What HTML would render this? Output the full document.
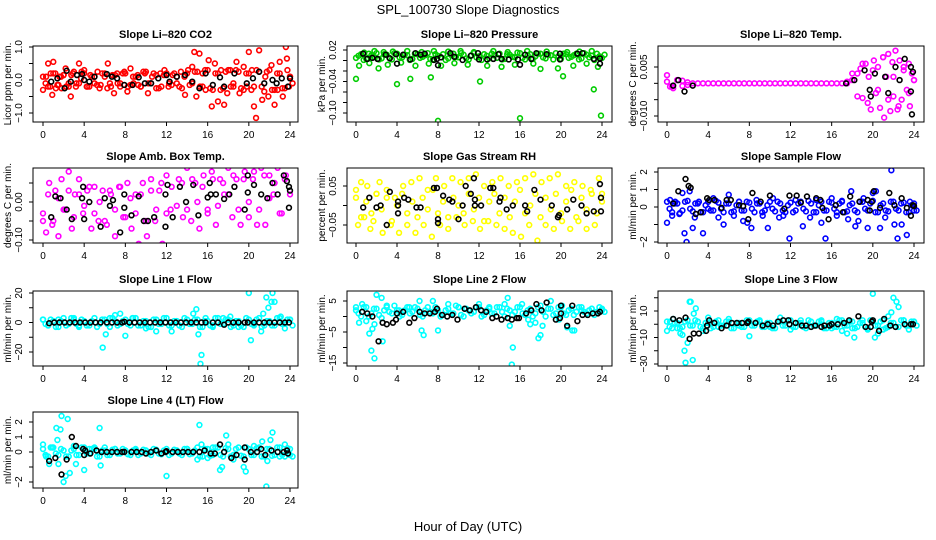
<!DOCTYPE html>
<html><head><meta charset="utf-8"><style>
html,body{margin:0;padding:0;background:#fff}
svg{display:block;font-family:"Liberation Sans",sans-serif}
</style></head><body>
<svg id="chart" width="936" height="540" viewBox="0 0 936 540">
<rect width="936" height="540" fill="#fff"/>
<text x="468" y="14" text-anchor="middle" font-size="13">SPL_100730  Slope Diagnostics</text>
<text x="468" y="531" text-anchor="middle" font-size="13">Hour of Day (UTC)</text>
</svg>
<script>
const hourTicks=[0,4,8,12,16,20,24];
// CO2
const co2Band=[0.1,-0.2,0.2,-0.15,0.15,-0.2,0.25,-0.1,0.2,-0.2,0.1,-0.25,0.2,-0.1,0.15,-0.2,0.2,-0.15,0.1,-0.2,0.25,-0.1,0.15,-0.2,0.2,-0.15,0.1,-0.25,0.2,-0.1,0.25,-0.2,0.3,-0.3,0.2,-0.25,0.3,-0.2,0.25,-0.3,0.2,-0.2,0.25,-0.35,0.3,-0.3,0.2,-0.25,0.1];
const co2Band2=[-0.1,0.2,-0.25,0.1,-0.2,0.15,-0.1,0.25,-0.2,0.1,-0.15,0.2,-0.25,0.15,-0.1,0.2,-0.2,0.1,-0.15,0.25,-0.1,0.2,-0.25,0.15,-0.1,0.2,-0.2,0.1,-0.15,0.25,-0.2,0.3,-0.25,0.2,-0.3,0.25,-0.2,0.3,-0.25,0.2,-0.3,0.3,-0.2,0.25,-0.3,0.2,-0.25,0.3,-0.1];
const co2Pts=[[0,-0.3],[0.3,0.1],[0.5,0.5],[0.7,-0.2],[0.9,-0.45],[1,0.55],[1.2,0.2],[1.4,-0.15],[1.6,0.1],[1.8,-0.25],[2,0.15],[2.2,0.35],[2.5,-0.1],[2.7,-0.5],[2.9,0.2],[3.2,-0.2],[3.5,0.5],[3.7,0.05],[4,0.3],[4.3,-0.2],[4.6,0.15],[5,-0.1],[5.3,0.25],[5.6,-0.15],[6,0.1],[6.3,0.5],[6.6,-0.2],[6.9,-0.4],[7.2,0.2],[7.5,-0.1],[7.9,0.25],[8.2,-0.35],[8.5,0.35],[8.8,-0.1],[9.2,0.15],[9.5,-0.2],[9.9,0.2],[10.2,-0.4],[10.6,0.1],[11,-0.25],[11.4,0.2],[11.8,0.3],[12.2,-0.2],[12.6,0.15],[13,-0.1],[13.4,0.25],[13.8,-0.45],[14.1,0.3],[14.5,0.4],[14.7,0.85],[14.9,-0.5],[15.2,0.8],[15.5,0.2],[15.8,-0.3],[16.1,0.6],[16.4,-0.8],[16.7,0.5],[17,-0.65],[17.3,0.3],[17.6,-0.75],[17.9,-0.4],[18.2,0.3],[18.5,-0.1],[18.8,0.55],[19.1,-0.4],[19.5,0.4],[19.8,-0.2],[20,0.85],[20.3,0.3],[20.5,-0.8],[20.7,-1.15],[21,0.9],[21.3,-0.6],[21.6,0.1],[21.9,-0.5],[22.2,0.45],[22.5,-0.75],[22.8,-0.3],[23,0.55],[23.3,-0.5],[23.6,1.0],[23.7,0.65],[23.9,-0.2],[24,0.1]];
const co2Black=[[0.8,-0.05],[1.4,0.05],[2.1,-0.25],[2.3,0.28],[2.7,-0.05],[3.3,0.15],[3.8,0.18],[4,0],[4.5,-0.05],[5,0.1],[6.2,0.18],[6.7,0.1],[7.2,0.05],[7.9,-0.15],[8.7,-0.15],[9.3,0.08],[9.9,-0.1],[10.5,-0.1],[11.2,0.05],[12,0.15],[12.3,-0.05],[13,0.1],[13.8,0.15],[14.5,-0.05],[15.2,-0.25],[15.8,0.2],[16.5,-0.15],[17.2,0.08],[17.6,-0.2],[18.6,0.2],[19.8,-0.1],[20.4,0.05],[21,0.25],[21.5,-0.1],[22.3,0],[22.7,-0.1],[23.2,0.05],[23.8,-0.2],[24,0.05]];
const co2Ticks=[-1,-0.5,0,0.5,1];
const co2Labels=["-1.0","","0.0","","1.0"];
// Pressure
const presBand=[0.005,0.012,0.003,0.01,0.014,0.004,0.011,0.002,0.013,0.006,0.01,0.003,0.012,0.007,0.014,0.002,0.009,0.012,0.004,0.013,0.006,0.011,0.002,0.014,0.008,0.012,0.004,0.01,0.013,0.003,0.011,0.006,0.014,0.002,0.012,0.008,0.013,0.004,0.01,0.014,0.003,0.012,0.007,0.013,0.004,0.011,0.009,0.013,0.005];
const presBand2=[0.009,0.001,0.013,0.007,0.002,0.012,0.005,0.014,0.006,0.011,0.001,0.013,0.005,0.01,0.003,0.012,0.006,0.001,0.011,0.007,0.014,0.004,0.01,0.006,0.001,0.009,0.013,0.005,0.002,0.012,0.007,0.015,0.005,0.01,0.003,0.013,0.006,0.011,0.002,0.008,0.013,0.005,0.01,0.002,0.014,0.006,0.001,0.008,0.011];
const presPts=[[0.3,-0.01],[0.8,0.015],[1.3,-0.005],[1.8,0.018],[2.2,-0.015],[2.7,0.016],[3.1,-0.008],[3.6,0.017],[4.4,-0.004],[5,0.018],[5.8,-0.01],[6.4,0.016],[7.1,-0.006],[7.6,0.018],[8.3,-0.01],[9,0.017],[9.6,-0.005],[10.2,0.018],[10.9,-0.008],[11.5,0.016],[12.8,-0.01],[13.4,0.018],[14.2,-0.012],[14.8,0.016],[15.5,-0.008],[16.7,0.018],[17.3,-0.006],[18,-0.016],[18.6,0.017],[19.7,-0.015],[20.6,0.016],[21.2,-0.01],[21.8,0.017],[22.5,-0.006],[23,0.018],[23.6,-0.012],[0,-0.035],[4,-0.045],[5.3,-0.035],[8,-0.115],[16,-0.11],[23.2,-0.055],[23.9,-0.105],[12.1,-0.04],[7.3,-0.032],[20.2,-0.03]];
const presBlack=[[0.7,0.013],[1.1,0.003],[1.6,0.005],[2.1,0.003],[2.9,0.011],[3.3,0.004],[3.9,0.012],[4,-0.006],[4.6,0.011],[5.3,0.002],[5.8,0.014],[6.3,0.011],[6.7,0.013],[7.6,0.001],[7.9,0.003],[8,-0.009],[8.3,0.006],[9.2,0.014],[9.6,0.007],[10.4,0.001],[11.2,0.009],[11.9,0.014],[12,0.002],[12.8,0.002],[13.4,0.003],[13.9,0.012],[14.2,0.003],[14.9,0.002],[15.8,0.002],[16,-0.008],[16.5,0.011],[17.1,0.003],[17.6,0.014],[18.6,0.012],[19.9,0.013],[19.9,0.002],[21.6,0.013],[22.1,0.014],[23.2,0.003],[23.8,0.004],[23.8,-0.006]];
const presTicks=[0.02,0,-0.02,-0.04,-0.06,-0.08,-0.10];
const presLabels=["0.02","","","-0.04","","","-0.10"];
// Li-820 Temp
const ltBand=[0.0005,-0.001,0.001,-0.0008,0.0003,0,0,0,0,0,0,0,0,0,0,0,0,0,0,0,0,0,0,0,0,0,0,0,0,0,0,0,0,0,0,0,0.003,-0.004,0.006,-0.006,0.004,-0.002,0.008,-0.005,0.002,-0.007,0.005,-0.003,0.001];
const ltBand2=[];
const ltPts=[[0,0.0025],[0.3,-0.001],[0.6,-0.0015],[1,0.001],[1.5,0.0008],[2,-0.0005],[17.5,0.0005],[18,0.001],[18.5,0.003],[18.8,0.0045],[19,-0.0045],[19.3,0.006],[19.6,0.002],[19.8,-0.008],[20.1,0.007],[20.3,-0.003],[20.5,0.005],[20.7,-0.0075],[21,0.008],[21.1,-0.0105],[21.3,0.002],[21.5,0.009],[21.7,-0.0085],[21.9,0.0065],[22,-0.004],[22.2,0.01],[22.4,-0.008],[22.6,0.007],[22.8,-0.005],[23,0.004],[23.3,-0.002],[23.5,0.006],[23.6,-0.007],[23.8,0.003],[24,0.001]];
const ltBlack=[[0.6,-0.0007],[1.1,0.001],[1.7,-0.0025],[2.5,-0.0007],[17.4,0],[18.2,0.001],[19.2,0.004],[19.7,-0.002],[19.8,-0.004],[20.2,0.003],[21.2,0.002],[21.5,-0.003],[22.2,0.005],[22.6,0.001],[23.1,0.0075],[23.7,0.005],[23.7,-0.0025],[23.8,-0.0095],[23.9,0.0035]];
const ltTicks=[0.005,0,-0.005,-0.010];
const ltLabels=["0.005","","","-0.010"];
// Amb Box Temp
const ambBand=[-0.03,0.02,-0.05,0.01,-0.02,0.03,-0.04,0.02,-0.01,0.04,-0.03,0.0,-0.05,0.03,-0.02,0.04,-0.04,0.01,-0.03,0.02,-0.05,0.03,-0.02,0.05,-0.03,0.04,-0.01,0.05,-0.02,0.06,0.0,0.04,-0.03,0.06,-0.01,0.05,0.02,0.07,-0.02,0.06,0.0,0.08,-0.02,0.07,0.01,0.05,-0.03,0.06,0.02];
const ambBand2=[];
const ambPts=[[0,-0.05],[0.3,-0.08],[0.6,0.05],[0.9,-0.06],[1.2,0.03],[1.5,-0.09],[1.8,0.06],[2.1,-0.02],[2.5,0.08],[2.8,-0.07],[3.1,0.02],[3.5,0.06],[3.9,-0.03],[4.3,0.03],[4.7,-0.07],[5,0.04],[5.4,-0.05],[5.8,0.03],[6.2,-0.06],[6.6,0.02],[7,-0.09],[7.4,0.04],[7.8,-0.04],[8.2,0.05],[8.6,-0.07],[9,0.02],[9.3,-0.11],[9.7,0.05],[10.1,-0.09],[10.5,0.06],[10.9,-0.05],[11.3,0.03],[11.6,-0.11],[12,0.07],[12.4,-0.02],[12.8,-0.12],[13.2,0.06],[13.6,-0.04],[14,0.09],[14.4,-0.05],[14.8,0.05],[15.2,-0.07],[15.6,0.07],[16,-0.02],[16.4,0.08],[16.8,-0.06],[17.2,0.06],[17.6,0.02],[18,0.09],[18.4,-0.04],[18.8,0.06],[19.2,-0.06],[19.6,0.08],[20,-0.04],[20.4,0.06],[20.8,-0.06],[21.2,0.09],[21.6,-0.06],[22,0.07],[22.4,0.02],[22.8,0.09],[23.2,-0.03],[23.6,0.07],[24,0.1]];
const ambBlack=[[0.8,-0.04],[1.2,0.015],[1.7,0.01],[2.3,-0.02],[2.8,-0.045],[3.8,0.01],[3.9,0.04],[4,-0.045],[4.5,0.0],[5.6,-0.065],[6,0.01],[6.5,-0.01],[6.8,0.005],[7.5,-0.08],[7.9,0.02],[7.9,-0.015],[8.6,-0.035],[9.3,0.015],[9.8,-0.05],[10.2,-0.05],[10.8,-0.04],[11.9,-0.065],[11.9,0.02],[12.1,0.045],[12.6,-0.04],[13.3,0.04],[13.9,0.0],[14.6,0.045],[15.1,-0.035],[16,0.012],[16.2,0.05],[16.3,0.02],[16.8,0.02],[17.6,0.008],[18.1,0.02],[18.6,0.04],[19.6,-0.02],[19.9,0.07],[19.9,0.025],[20.5,0.045],[21.2,0.02],[21.8,0.01],[22.3,0.05],[22.8,0.02],[23.4,0.07],[23.7,0.055],[23.9,0.04],[23.9,-0.015],[24,0.03]];
const ambTicks=[0.05,0,-0.05,-0.10];
const ambLabels=["","0.00","","-0.10"];
// Gas RH
const rhBand=[0.02,-0.03,0.01,-0.02,0.03,-0.01,0.02,-0.04,0.0,0.03,-0.02,0.01,-0.03,0.02,-0.01,0.04,-0.02,0.01,-0.03,0.02,0.0,-0.02,0.03,-0.01,0.02,-0.04,0.01,0.03,-0.02,0.02,-0.03,0.01,0.04,-0.02,0.0,0.03,-0.03,0.02,-0.01,0.03,-0.02,0.01,0.04,-0.03,0.02,-0.01,0.03,-0.02,0.01];
const rhBand2=[];
const rhPts=[[0,0.04],[0.2,-0.05],[0.5,0.06],[0.8,-0.03],[1.1,0.05],[1.4,-0.06],[1.7,-0.04],[2.0,0.03],[2.3,0.06],[2.6,-0.07],[3,0.04],[3.4,-0.05],[3.8,0.02],[4.2,-0.07],[4.6,0.05],[5,-0.05],[5.4,0.06],[5.8,-0.07],[6.2,0.07],[6.6,-0.05],[7,0.04],[7.4,-0.08],[7.8,0.07],[8.2,-0.05],[8.6,0.05],[9,-0.06],[9.4,0.07],[9.8,-0.03],[10.2,0.06],[10.6,-0.05],[11,0.07],[11.4,-0.04],[11.7,0.08],[12.1,-0.06],[12.5,0.05],[12.9,-0.04],[13.3,0.06],[13.7,-0.05],[14.1,0.07],[14.5,-0.06],[14.9,0.05],[15.3,-0.07],[15.7,0.06],[16.1,-0.08],[16.5,0.07],[16.9,-0.05],[17.3,0.08],[17.7,-0.09],[18.1,0.06],[18.5,-0.05],[18.9,0.07],[19.3,-0.06],[19.7,0.08],[20.1,-0.04],[20.5,0.05],[20.9,-0.06],[21.3,0.06],[21.7,-0.04],[22.1,0.05],[22.5,-0.06],[22.9,0.04],[23.3,-0.05],[23.7,0.07],[24,0.03]];
const rhBlack=[[0.7,-0.005],[1.3,0.02],[2.0,-0.005],[2.4,0.0],[3.0,-0.05],[3.3,0.035],[4.1,0.01],[4.1,0.0],[4.1,-0.02],[4.7,0.02],[5.1,0.015],[5.9,-0.005],[6.3,-0.005],[7.6,0.045],[7.9,0.045],[8.0,-0.035],[8.0,-0.045],[8.5,0.025],[9.1,0.015],[9.4,0.01],[10.0,-0.035],[10.4,0.0],[10.7,0.05],[11.2,0.03],[11.5,0.07],[11.6,0.015],[11.6,0.0],[12.2,0.0],[13.1,0.045],[13.4,0.045],[14.0,0.01],[14.1,0.02],[14.7,-0.01],[15.3,0.0],[16.5,0.0],[16.7,-0.015],[17.4,0.04],[18.0,0.015],[19.1,0.0],[19.7,-0.03],[19.8,-0.025],[20.6,-0.01],[21.2,0.015],[22.0,0.0],[22.5,-0.02],[23.2,-0.015],[23.8,0.055],[23.9,0.02],[23.9,-0.015]];
const rhTicks=[0.05,0,-0.05];
const rhLabels=["0.05","","-0.05"];
// Sample Flow
const sfBand=[0.3,-0.3,0.2,-0.2,0.35,-0.25,0.2,-0.3,0.3,-0.2,0.25,-0.3,0.2,-0.25,0.3,-0.2,0.25,-0.3,0.2,-0.2,0.3,-0.25,0.2,-0.3,0.25,-0.2,0.3,-0.25,0.2,-0.3,0.3,-0.2,0.25,-0.3,0.35,-0.25,0.2,-0.3,0.3,-0.2,0.35,-0.3,0.2,-0.25,0.3,-0.2,0.25,-0.3,0.2];
const sfBand2=[-0.1,0.2,-0.35,0.3,-0.1,0.2,-0.3,0.1,-0.2,0.35,-0.1,0.2,-0.3,0.1,-0.2,0.3,-0.1,0.2,-0.3,0.1,-0.1,0.3,-0.2,0.1,-0.3,0.2,-0.1,0.35,-0.3,0.1,-0.2,0.3,-0.1,0.2,-0.3,0.1,-0.2,0.3,-0.1,0.2,-0.3,0.1,-0.2,0.3,-0.1,0.2,-0.3,0.1,-0.2];
const sfPts=[[0,-0.9],[0.3,0.4],[0.5,-0.5],[0.8,0.3],[1.2,-0.4],[1.5,0.8],[1.7,-1.5],[1.9,-2.0],[2.2,0.9],[2.5,-1.2],[2.7,-0.6],[3.1,0.3],[3.5,-1.5],[4.0,-0.1],[4.5,0.5],[5.0,-0.6],[5.5,-1.0],[6.0,0.7],[6.5,-0.5],[7,0.3],[7.4,-0.8],[7.8,-0.9],[8.2,-1.2],[8.7,0.4],[9.3,-0.5],[9.8,-1.2],[10.3,0.5],[10.9,-0.6],[11.3,-0.5],[11.9,-1.8],[12.5,0.4],[13.2,-1.1],[13.9,-0.6],[14.5,0.4],[15.0,-0.9],[15.4,-1.8],[16.0,0.5],[16.5,-0.5],[17.0,0.3],[17.6,-0.7],[17.9,0.9],[18.3,-1.1],[18.6,-0.8],[19.1,0.5],[19.5,-1.2],[20,0.8],[20.3,0.9],[20.7,-1.2],[21.2,-0.6],[21.8,2.1],[22.1,-1.0],[22.4,-1.8],[22.8,-1.0],[23.3,-1.6],[23.6,0.3],[24,-0.2]];
const sfBlack=[[0.6,0.2],[1.1,0.9],[1.8,1.6],[2.1,1.2],[2.3,1.1],[2.8,-0.4],[3.3,-0.3],[3.9,0.5],[4.1,0.4],[4.6,0.4],[5.3,-0.05],[5.8,0.4],[6.2,0.4],[7.0,0.1],[7.4,0.05],[7.9,-0.7],[8.3,0.8],[9.1,0.3],[10.0,0.65],[11.4,-0.1],[11.9,0.65],[12.6,0.65],[13.0,0.25],[13.6,0.6],[14.5,0.5],[14.9,0.4],[15.1,-0.05],[15.7,-0.7],[16.4,0.1],[17.1,-0.3],[17.8,0.6],[18.7,0.3],[19.5,0.4],[19.7,-0.2],[19.9,0.3],[20.1,0.9],[20.7,-0.05],[21.6,0.8],[22.1,0.1],[22.8,0.5],[23.3,-0.05],[23.7,-0.5],[23.9,0.1],[24,0.05]];
const sfTicks=[2,1,0,-1,-2];
const sfLabels=["2","1","0","","-2"];
// Line 1
const l1Band=[2,-2,1,-3,3,-1,2,-2,1,-2,3,-1,2,-3,1,-1,2,-2,3,-2,1,-3,2,-1,3,-2,1,-3,2,-1,2,-3,1,-2,3,-1,2,-2,1,-3,2,-1,3,-2,1,-2,3,-1,2];
const l1Band2=[-1,2,-3,1,-2,3,-1,2,-2,1,-3,2,-1,3,-2,1,-1,3,-2,1,-3,2,-1,3,-2,1,-2,3,-1,2,-3,1,-2,3,-1,2,-3,1,-2,3,-1,2,-3,1,-2,3,-1,2,-2];
const l1Pts=[[0,2],[0.5,-2],[1.5,2],[3,3],[3.5,-3],[5.8,-17],[6.1,-8],[6.5,3],[7,5],[7.5,6],[8,-9],[8.7,3],[10,-4],[11,-6],[12.5,-6],[14.6,6],[14.9,9],[15.1,-8],[15.3,-28],[15.4,-22],[15.8,3],[16.5,-3],[17.5,3],[18.2,4],[19,-3],[20,20],[20.2,-12],[20.5,-2],[21.2,-6],[21.4,6],[21.7,17],[21.9,10],[22.2,14],[22.3,20],[22.5,14],[23.1,4],[23.5,-4],[24,2]];
const l1Black=[[0.6,-0.5],[1.1,0],[1.6,0],[2.1,0],[2.6,0],[3.1,0],[3.6,0],[4.1,0],[4.6,0],[5.1,0],[5.6,0],[6.2,0],[6.7,0],[7.2,0],[7.7,0],[7.9,0.5],[8.4,0],[8.9,0],[9.4,0],[9.9,0],[10.4,0],[10.9,0],[11.4,0],[11.9,0],[12.4,0],[12.9,0],[13.4,0],[13.9,0],[14.4,0],[14.9,0],[15.4,0],[15.8,0],[16.5,0],[17.0,0],[17.6,-1.5],[18.0,0],[18.5,0],[19.0,0],[19.6,0],[19.9,0],[20.5,0],[21.0,0],[21.5,0],[22.0,0],[22.5,0],[23.0,0],[23.5,0],[23.9,0]];
const l1Ticks=[20,10,0,-10,-20];
const l1Labels=["20","","0","","-20"];
// Line 2
const l2Band=[2,0,3,1,2.5,-0.5,3,1,2,0.5,3,1.5,2.5,0,3,1,2,0.5,2.5,1,3,0,2,1.5,3,0.5,2.5,1,3,0,2,1.5,3,0.5,2.5,1,3.5,0,2.5,1,3,0.5,2.5,1.5,3,1,2.5,1.5,2];
const l2Band2=[1,3,0,2.5,0.5,2,1.5,3.5,0,2,1,3,0.5,2,1.5,3,0,2,1,3.5,0.5,2.5,1,3,0,2,1,3,1.5,2.5,0.5,3,1,2,0,3,1.5,2.5,0.5,3,1,2,0.5,3,1.5,2,0.5,3,1.5];
const l2Pts=[[0,3],[0.3,-2],[0.6,4],[1,-1.5],[1.3,-5.5],[1.6,-4],[1.8,-2.5],[1.5,-11],[1.8,-13.5],[2,7],[2.3,9],[2.5,6],[2.6,-8],[3.0,3.5],[4.2,2],[5.2,3],[6.2,5],[6.4,-4.5],[6.6,-6],[7.5,5],[8.0,-4.5],[9,4],[10,3],[11,2],[12,4],[13,3],[14.5,4],[14.8,6],[15.0,-3],[15.3,-10],[15.2,-15.5],[16.2,4],[16.8,-1],[17,-2.5],[17.5,-2],[17.8,-7],[18,-6],[18.2,-3],[19,5],[19.8,-1],[20.1,3.5],[20.6,-3.5],[21.1,-4.5],[21.3,-4.5],[22,2],[23,2.5],[24,2.5]];
const l2Black=[[0.6,1.5],[1.1,1],[1.6,0],[2.2,-8],[2.6,-2],[3.0,-2.5],[3.6,-2],[3.9,-1],[4.0,1],[4.6,1.5],[5.2,-2],[5.7,-0.5],[6.2,1.5],[6.7,1],[7.2,1],[7.7,1.5],[7.9,2.5],[8.4,0.5],[8.9,0],[9.4,0.5],[9.9,-1],[10.6,2.5],[11.1,2],[11.7,3],[12.2,2],[12.7,1.5],[13.3,-0.5],[13.7,0],[14.2,-1],[14.8,-0.5],[15.2,-1],[15.7,-0.5],[15.9,-0.5],[16.6,1],[17.1,2],[17.6,4],[18.1,2],[18.6,4.5],[19.5,-1],[19.9,-0.5],[20.0,1],[20.0,3.5],[20.6,-3],[21.1,3.5],[21.6,-1.5],[22.1,0.5],[22.6,0.5],[23.1,1],[23.6,1],[23.8,1.5]];
const l2Ticks=[5,0,-5,-10,-15];
const l2Labels=["5","","-5","","-15"];
// Line 3
const l3Band=[2,-3,1,-2,3,-1,2,-3,1,-2,3,-1,2,-3,1,-2,3,-1,2,-2,1,-3,2,-1,3,-2,1,-3,2,-1,2,-3,1,-2,3,-1,2,-2,1,-3,2,-1,3,-2,1,-2,3,-1,2];
const l3Band2=[-2,1,-3,2,-1,3,-2,1,-3,2,-1,2,-3,1,-2,3,-1,2,-2,1,-3,2,-1,3,-2,1,-2,3,-1,2,-3,1,-2,3,-1,2,-3,1,-2,3,-1,2,-3,1,-2,3,-1,2,-1];
const l3Pts=[[0,-5],[0.3,2],[0.6,4],[1.0,-3],[1.3,-7],[1.5,-8],[1.7,-20],[1.8,-29],[2.0,-14],[2.2,17],[2.3,17],[2.5,-27],[2.6,8],[2.8,12],[3.5,-5],[4,5],[5,-2],[6,4],[7,-1],[8,-9],[9,3],[10,-2],[11,5],[12,-4],[13,3],[14,-2],[15,3],[16,-3],[16.5,4],[17,-5],[17.5,-7],[18,-3],[18.2,-10],[19,3],[19.5,-4],[20,23],[20.2,-10],[20.5,-7],[21,-4],[21.5,6],[21.8,9],[22,20],[22.3,17],[22.5,13],[23,3],[23.5,-4],[24,2]];
const l3Black=[[0.6,4],[1.2,3],[1.8,5],[2.2,-11],[2.6,-7],[3.1,-7],[3.8,-5],[3.9,-1],[4.1,3],[4.6,1],[5.3,-3],[5.8,-1],[6.3,1],[6.8,1],[7.3,1],[7.8,1],[7.9,2],[8.6,1],[9.3,-1],[9.8,0],[10.3,-1],[10.8,2],[11.3,3],[11.8,3],[11.9,0],[12.5,1],[13.1,-1],[13.5,-1],[14,-2],[14.4,-1],[15.0,-2],[15.3,-1],[15.8,-1],[16.0,0],[16.6,0],[17.2,1],[17.7,3],[18.6,6],[19.3,-2],[19.8,-2],[19.9,2],[20.0,3],[20.6,-5],[21.1,4],[21.7,-1],[22.2,-2],[23.1,0],[23.7,0],[23.9,0]];
const l3Ticks=[20,10,0,-10,-20,-30];
const l3Labels=["","10","","-10","","-30"];
// Line 4
const l4Band=[0.2,-0.3,0.3,-0.2,0.1,-0.3,0.2,-0.2,0.3,-0.1,0.2,-0.3,0.1,-0.2,0.2,-0.1,0.1,-0.2,0.2,-0.1,0.1,-0.2,0.15,-0.15,0.2,-0.1,0.1,-0.2,0.2,-0.1,0.3,-0.3,0.2,-0.2,0.3,-0.3,0.2,-0.2,0.3,-0.3,0.2,-0.2,0.3,-0.3,0.2,-0.2,0.3,-0.3,0.2];
const l4Band2=[-0.2,0.3,-0.1,0.2,-0.3,0.1,-0.2,0.3,-0.1,0.2,-0.3,0.1,-0.2,0.15,-0.1,0.2,-0.15,0.1,-0.2,0.15,-0.1,0.2,-0.1,0.1,-0.2,0.15,-0.1,0.2,-0.15,0.1,-0.3,0.2,-0.25,0.3,-0.2,0.25,-0.3,0.2,-0.25,0.3,-0.2,0.25,-0.3,0.2,-0.25,0.3,-0.2,0.25,-0.3];
const l4Pts=[[0,0.5],[0.3,-0.3],[0.6,-0.8],[0.9,0.3],[1.3,1.6],[1.4,0.8],[1.5,-0.8],[1.7,1.5],[1.8,2.4],[2,-2.0],[2.2,-1.6],[2.4,2.2],[2.6,-1.4],[3.0,0.4],[3.2,-0.8],[4,-1.2],[4.5,0.2],[5.0,0.3],[5.5,1.6],[5.6,-0.9],[6.0,0.3],[7,0.2],[8,0.1],[9,0.1],[10,0.1],[12,-1.6],[13,0.1],[14,0.2],[15,-0.5],[15.2,1.8],[15.4,0.5],[16,-0.4],[16.5,0.3],[17.2,-1.2],[17.4,-1.0],[17.8,1.1],[18.0,0.5],[18.5,-0.5],[19.5,-1.0],[19.7,-1.3],[20.5,0.4],[21.3,0.7],[21.7,-2.3],[21.8,-0.6],[22.1,0.8],[22.3,1.3],[23,-0.3],[23.5,0.5],[24,-0.2]];
const l4Black=[[0.6,-0.6],[1.2,-0.4],[1.8,-1.5],[2.3,-0.5],[2.8,1.0],[3.2,0.4],[3.9,0.2],[4.0,-0.2],[4.1,0.1],[4.6,-0.1],[5.2,0.1],[5.7,0],[6.2,0],[6.7,0],[7.2,0],[7.7,0],[7.9,0],[8.6,0],[9.1,0],[9.6,0],[10.0,-0.1],[10.5,0],[11,0.1],[11.5,-0.1],[11.9,0],[12,0.05],[12.6,0],[13.1,0],[13.6,0],[14.1,0],[14.6,0],[15.2,0],[15.7,0.1],[16.3,-0.1],[16.7,-0.1],[17.2,0.5],[17.6,0],[18.3,-0.4],[18.8,-0.2],[19.6,0.3],[19.6,-0.5],[20.2,0],[20.8,0],[21.2,0.2],[21.6,-0.2],[22.2,0.1],[22.8,0],[23.4,0],[23.7,0.1],[23.8,-0.1]];
const l4Ticks=[2,1,0,-1,-2];
const l4Labels=["2","1","0","","-2"];

const svg=document.getElementById('chart');
const NS='http://www.w3.org/2000/svg';
function mk(tag,attrs,parent){const e=document.createElementNS(NS,tag);for(const k in attrs)e.setAttribute(k,attrs[k]);(parent||svg).appendChild(e);return e;}
const cols=[{bx0:33,bx1:298,h0:43,h24:290},{bx0:347,bx1:612,h0:356,h24:602},{bx0:658,bx1:924,h0:667,h24:914}];
const rows=[{top:46,bot:122},{top:168,bot:243},{top:291,bot:366},{top:412,bot:488}];
const panels=[
 {key:'co2',title:'Slope Li-820 CO2',ylab:'Licor ppm per min.',c:0,r:0,color:'#ff0000',band:co2Band,band2:co2Band2,pts:co2Pts,blk:co2Black,ticks:co2Ticks,labels:co2Labels,cal:[1,47,-1,113]},
 {key:'pressure',title:'Slope Li-820 Pressure',ylab:'kPa per min.',c:1,r:0,color:'#00cc00',band:presBand,band2:presBand2,pts:presPts,blk:presBlack,ticks:presTicks,labels:presLabels,cal:[0.02,50,-0.10,113]},
 {key:'li820-temp',title:'Slope Li-820 Temp.',ylab:'degrees C per min.',c:2,r:0,color:'#ff00ff',band:ltBand,band2:ltBand2,pts:ltPts,blk:ltBlack,ticks:ltTicks,labels:ltLabels,cal:[0.005,67,-0.010,116]},
 {key:'amb-box-temp',title:'Slope Amb. Box Temp.',ylab:'degrees C per min.',c:0,r:1,color:'#ff00ff',band:ambBand,band2:ambBand2,pts:ambPts,blk:ambBlack,ticks:ambTicks,labels:ambLabels,cal:[0.05,183,-0.10,240]},
 {key:'gas-stream-rh',title:'Slope Gas Stream RH',ylab:'percent per min.',c:1,r:1,color:'#ffff00',band:rhBand,band2:rhBand2,pts:rhPts,blk:rhBlack,ticks:rhTicks,labels:rhLabels,cal:[0.05,186,-0.05,225]},
 {key:'sample-flow',title:'Slope Sample Flow',ylab:'ml/min per min.',c:2,r:1,color:'#0000ff',band:sfBand,band2:sfBand2,pts:sfPts,blk:sfBlack,ticks:sfTicks,labels:sfLabels,cal:[2,172,-2,242]},
 {key:'line1-flow',title:'Slope Line 1 Flow',ylab:'ml/min per min.',c:0,r:2,color:'#00ffff',band:l1Band,band2:l1Band2,pts:l1Pts,blk:l1Black,ticks:l1Ticks,labels:l1Labels,cal:[20,293,-20,352]},
 {key:'line2-flow',title:'Slope Line 2 Flow',ylab:'ml/min per min.',c:1,r:2,color:'#00ffff',band:l2Band,band2:l2Band2,pts:l2Pts,blk:l2Black,ticks:l2Ticks,labels:l2Labels,cal:[5,301,-15,363]},
 {key:'line3-flow',title:'Slope Line 3 Flow',ylab:'ml/min per min.',c:2,r:2,color:'#00ffff',band:l3Band,band2:l3Band2,pts:l3Pts,blk:l3Black,ticks:l3Ticks,labels:l3Labels,cal:[10,311,-30,364]},
 {key:'line4-flow',title:'Slope Line 4 (LT) Flow',ylab:'ml/min per min.',c:0,r:3,color:'#00ffff',band:l4Band,band2:l4Band2,pts:l4Pts,blk:l4Black,ticks:l4Ticks,labels:l4Labels,cal:[2,422,-2,482]}
];
panels.forEach(p=>{
 const C=cols[p.c],R=rows[p.r];
 const xs=h=>C.h0+h*(C.h24-C.h0)/24;
 const ys=v=>p.cal[1]+(v-p.cal[0])*(p.cal[3]-p.cal[1])/(p.cal[2]-p.cal[0]);
 const g=mk('g',{});
 
 
 const t=mk('text',{x:(C.bx0+C.bx1)/2,y:R.top-8,'text-anchor':'middle','font-size':11,'font-weight':'bold'},g);
 t.textContent=p.title.replace('-','\u2013');
 
 
 const cl=mk('clipPath',{id:'clip-'+p.key},g);
 mk('rect',{x:C.bx0,y:R.top,width:C.bx1-C.bx0,height:R.bot-R.top},cl);
 const pg=mk('g',{'clip-path':'url(#clip-'+p.key+')'},g);
 
 
 p.band.forEach((v,i)=>{
  const c=mk('circle',{cx:xs(i*0.5),cy:ys(v),r:2.4,fill:'none',stroke:p.color,'stroke-width':1.6},pg);
  
  
 });
 p.band2.forEach((v,i)=>{
  const c=mk('circle',{cx:xs(i*0.5+0.25),cy:ys(v),r:2.4,fill:'none',stroke:p.color,'stroke-width':1.6},pg);
  
  
 });
 p.pts.forEach(d=>{
  const c=mk('circle',{cx:xs(d[0]),cy:ys(d[1]),r:2.4,fill:'none',stroke:p.color,'stroke-width':1.6},pg);
  
  
 });
 p.blk.forEach(d=>{
  const c=mk('circle',{cx:xs(d[0]),cy:ys(d[1]),r:2.4,fill:'none',stroke:'#000','stroke-width':1.6},pg);
  
  
 });
 const box=mk('rect',{x:C.bx0,y:R.top,width:C.bx1-C.bx0,height:R.bot-R.top,fill:'none',stroke:'#000','stroke-width':1},g);
 
 
 hourTicks.forEach(h=>{
  mk('line',{x1:xs(h),x2:xs(h),y1:R.bot,y2:R.bot+4,stroke:'#000'},g);
  const tl=mk('text',{x:xs(h),y:R.bot+16,'text-anchor':'middle','font-size':10},g);
  tl.textContent=h;
  
  
 });
 p.ticks.forEach((v,i)=>{
  const y=ys(v);
  mk('line',{x1:C.bx0-4,x2:C.bx0,y1:y,y2:y,stroke:'#000'},g);
  if(p.labels[i]){
   const lx=C.bx0-11;
   const tl=mk('text',{x:lx,y:y,'text-anchor':'middle','font-size':10,transform:'rotate(-90 '+lx+' '+y+')'},g);
   tl.textContent=p.labels[i].replace('-','\u2212');
   
   
  }
 });
 const yx=C.bx0-22,yy=(R.top+R.bot)/2;
 const yl=mk('text',{x:yx,y:yy,'text-anchor':'middle','font-size':10,transform:'rotate(-90 '+yx+' '+yy+')'},g);
 yl.textContent=p.ylab;
 
 
});
</script>
</body></html>
